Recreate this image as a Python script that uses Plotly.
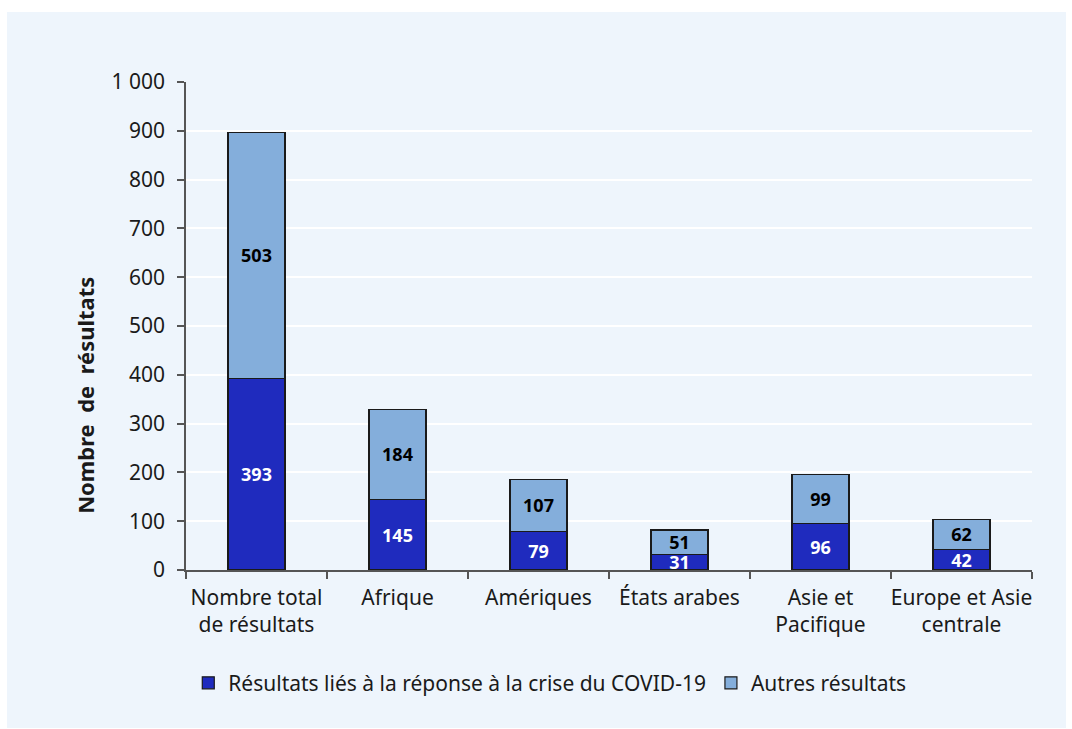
import plotly.graph_objects as go

categories = ["Nombre total<br>de résultats", "Afrique", "Amériques", "États arabes",
              "Asie et<br>Pacifique", "Europe et Asie<br>centrale"]
covid = [393, 145, 79, 31, 96, 42]
autres = [503, 184, 107, 51, 99, 62]

FONT = "Noto Sans"
PANEL = "#EEF5FC"
INK = "#1a1a1a"

fig = go.Figure()
fig.add_trace(go.Bar(
    x=categories, y=covid, name="Résultats liés à la réponse à la crise du COVID-19",
    marker=dict(color="#1F2BBE", line=dict(color=INK, width=1.2)),
    text=covid, textposition="inside", insidetextanchor="middle",
    textangle=0, constraintext="none", cliponaxis=False,
    textfont=dict(family=FONT, size=18, color="white", weight="bold"),
    width=0.405,
))
fig.add_trace(go.Bar(
    x=categories, y=autres, name="Autres résultats",
    marker=dict(color="#84AEDB", line=dict(color=INK, width=1.2)),
    text=autres, textposition="inside", insidetextanchor="middle",
    textangle=0, constraintext="none", cliponaxis=False,
    textfont=dict(family=FONT, size=18, color="black", weight="bold"),
    width=0.405,
))

fig.update_layout(
    barmode="stack",
    width=1072, height=729,
    margin=dict(l=186, r=40, t=82, b=159),
    paper_bgcolor="white",
    plot_bgcolor=PANEL,
    separators=", ",
    font=dict(family=FONT, size=21, color=INK),
    uniformtext=dict(mode=False),
    showlegend=True,
    legend=dict(orientation="h", x=0.43, xanchor="center", y=-0.232, yanchor="middle",
                font=dict(family=FONT, size=21, color=INK),
                itemwidth=30, traceorder="normal", bgcolor="rgba(0,0,0,0)"),
    shapes=[dict(type="rect", xref="paper", yref="paper", layer="below",
                 x0=-0.2116, x1=1.0402, y0=-0.3238, y1=1.1434,
                 fillcolor=PANEL, line=dict(width=0))],
    annotations=[dict(text="Nombre  de  résultats", textangle=-90, showarrow=False,
                      xref="paper", yref="paper", x=-0.1194, y=0.359,
                      xanchor="center", yanchor="middle",
                      font=dict(family=FONT, size=22, color=INK, weight="bold"))],
    xaxis=dict(showline=True, linecolor="#555555", linewidth=1.5,
               ticks="outside", ticklen=7, tickcolor="#555555", tickwidth=1.5,
               tickson="boundaries", showgrid=False, ticklabelstandoff=8,
               tickangle=0, automargin=False,
               tickfont=dict(family=FONT, size=21, color=INK)),
    yaxis=dict(range=[0, 1000], dtick=100, tickformat=",d",
               showline=True, linecolor="#555555", linewidth=1.5,
               ticks="outside", ticklen=7, tickcolor="#555555", tickwidth=1.5,
               showgrid=True, gridcolor="white", gridwidth=2, zeroline=False,
               ticklabelstandoff=8, automargin=False,
               tickfont=dict(family=FONT, size=21, color=INK)),
)

fig.write_html("out.html")
